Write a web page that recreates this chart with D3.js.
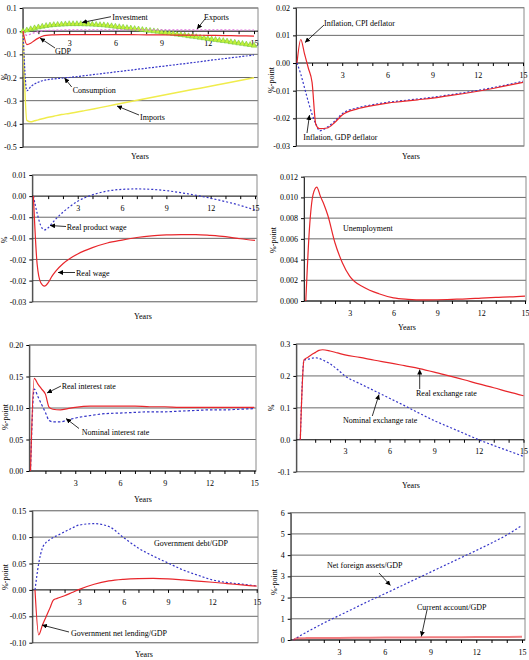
<!DOCTYPE html>
<html>
<head>
<meta charset="utf-8">
<script src="https://cdn.jsdelivr.net/npm/d3@7"></script>
<style>
  body { margin: 0; background: #fff; }
  text { font-family: "Liberation Serif", "Times New Roman", serif; }
</style>
</head>
<body>
<svg id="chart" width="529" height="660"></svg>
<script>
// years on the horizontal axis (quarterly at first, then yearly)
var T = [0, 0.25, 0.5, 0.75, 1, 1.25, 1.5, 2, 2.5, 3, 4, 5, 6, 7, 8, 9, 10, 11, 12, 13, 14, 15];
var xTickLabels = [3, 6, 9, 12, 15];

// panel 1: GDP and components
var gdp = [0, -0.058, -0.052, -0.04, -0.03, -0.022, -0.018, -0.016, -0.015, -0.015, -0.015, -0.015, -0.015, -0.015, -0.016, -0.016, -0.017, -0.017, -0.018, -0.019, -0.020, -0.021];
var exportsS = [0, -0.018, -0.012, -0.006, -0.002, 0.001, 0.003, 0.004, 0.005, 0.006, 0.006, 0.006, 0.006, 0.006, 0.006, 0.006, 0.006, 0.006, 0.006, 0.006, 0.005, 0.005];
var consumption = [0, -0.257, -0.24, -0.228, -0.22, -0.214, -0.21, -0.206, -0.203, -0.2, -0.192, -0.184, -0.176, -0.168, -0.16, -0.152, -0.144, -0.136, -0.127, -0.119, -0.111, -0.103];
var imports = [0, -0.385, -0.391, -0.387, -0.383, -0.378, -0.374, -0.367, -0.36, -0.355, -0.343, -0.33, -0.317, -0.304, -0.291, -0.278, -0.265, -0.252, -0.24, -0.227, -0.214, -0.201];
var tInv = d3.range(0, 15.001, 0.25);
var investment = [0, 0.004, 0.009, 0.013, 0.017, 0.020, 0.023, 0.025, 0.027, 0.028, 0.029, 0.030, 0.031, 0.031, 0.031, 0.031,
  0.030, 0.030, 0.029, 0.028, 0.027, 0.026, 0.024, 0.022, 0.020, 0.018, 0.016, 0.014, 0.012, 0.010, 0.008, 0.006,
  0.004, 0.002, 0.000, -0.002, -0.005, -0.007, -0.009, -0.011, -0.014, -0.016, -0.018, -0.021, -0.023, -0.025, -0.028, -0.030,
  -0.033, -0.035, -0.037, -0.040, -0.042, -0.044, -0.047, -0.049, -0.052, -0.054, -0.057, -0.059, -0.062];
var p1Ticks = [0.1, 0, -0.1, -0.2, -0.3, -0.4, -0.5];
var p1Labels = ["0.1", "0.0", "-0.1", "-0.2", "-0.3", "-0.4", "-0.5"];

// panel 2: inflation
var cpiInfl = [0, 0.0085, 0.0033, -0.0018, -0.007, -0.0222, -0.0237, -0.0235, -0.0215, -0.0188, -0.0166, -0.0154, -0.0145, -0.0139, -0.0133, -0.0127, -0.0119, -0.0111, -0.0102, -0.0092, -0.0081, -0.007];
var gdpInfl = [0, -0.004, -0.009, -0.014, -0.0185, -0.022, -0.0245, -0.0232, -0.021, -0.0183, -0.0162, -0.0151, -0.0142, -0.0136, -0.013, -0.0124, -0.0116, -0.0108, -0.0099, -0.0089, -0.0078, -0.0066];
var p2Ticks = [0.02, 0.01, 0, -0.01, -0.02, -0.03];
var p2Labels = ["0.02", "0.01", "0.00", "-0.01", "-0.02", "-0.03"];

// panel 3: wages
var realProductWage = [0, -0.004, -0.007, -0.008, -0.0075, -0.0065, -0.0055, -0.0038, -0.0024, -0.0012, 0.0003, 0.0012, 0.0016, 0.0017, 0.0016, 0.0013, 0.0008, 0.0002, -0.0005, -0.0013, -0.0022, -0.0033];
var realWage = [0, -0.016, -0.0205, -0.0213, -0.0205, -0.019, -0.0178, -0.016, -0.0147, -0.0137, -0.0122, -0.0111, -0.0104, -0.0098, -0.0094, -0.0092, -0.0091, -0.0091, -0.0093, -0.0096, -0.0101, -0.0105];
var p3Ticks = [0.005, 0, -0.005, -0.01, -0.015, -0.02, -0.025];
var p3Labels = ["0.01", "0.00", "-0.01", "-0.01", "-0.02", "-0.02", "-0.03"];

// panel 4: unemployment
var unemployment = [0, 0.007, 0.0103, 0.011, 0.0101, 0.0093, 0.0083, 0.0056, 0.0037, 0.0024, 0.0013, 0.0007, 0.0003, 0.00016, 0.0001, 0.00012, 0.00016, 0.0002, 0.00028, 0.00035, 0.0004, 0.00048];
var p4Ticks = [0.012, 0.01, 0.008, 0.006, 0.004, 0.002, 0];
var p4Labels = ["0.012", "0.010", "0.008", "0.006", "0.004", "0.002", "0.000"];

// panel 5: interest rates
var realRate = [0, 0.147, 0.138, 0.13, 0.122, 0.101, 0.098, 0.097, 0.099, 0.101, 0.103, 0.103, 0.103, 0.103, 0.102, 0.102, 0.101, 0.101, 0.101, 0.101, 0.101, 0.101];
var nominalRate = [0, 0.13, 0.118, 0.105, 0.093, 0.08, 0.078, 0.078, 0.081, 0.084, 0.088, 0.091, 0.092, 0.093, 0.094, 0.094, 0.095, 0.096, 0.097, 0.097, 0.098, 0.099];
var p5Ticks = [0.2, 0.15, 0.1, 0.05, 0];
var p5Labels = ["0.20", "0.15", "0.10", "0.05", "0.00"];

// panel 6: exchange rates
var realExch = [0, 0.25, 0.258, 0.266, 0.273, 0.28, 0.282, 0.278, 0.272, 0.266, 0.258, 0.249, 0.241, 0.232, 0.223, 0.212, 0.2, 0.188, 0.175, 0.163, 0.15, 0.138];
var nominalExch = [0, 0.25, 0.252, 0.255, 0.257, 0.255, 0.25, 0.238, 0.22, 0.2, 0.176, 0.153, 0.13, 0.107, 0.083, 0.06, 0.04, 0.02, 0.0, -0.018, -0.035, -0.052];
var p6Ticks = [0.3, 0.2, 0.1, 0, -0.1];
var p6Labels = ["0.3", "0.2", "0.1", "0.0", "-0.1"];

// panel 7: government
var govDebt = [0, 0.05, 0.079, 0.09, 0.095, 0.0997, 0.103, 0.11, 0.117, 0.123, 0.1255, 0.12, 0.099, 0.079, 0.064, 0.051, 0.038, 0.028, 0.019, 0.014, 0.011, 0.0076];
var govLending = [0, -0.085, -0.067, -0.051, -0.035, -0.019, -0.016, -0.011, -0.005, 0.001, 0.0107, 0.017, 0.02, 0.0215, 0.022, 0.021, 0.019, 0.0168, 0.0145, 0.012, 0.0095, 0.007];
var p7Ticks = [0.15, 0.1, 0.05, 0, -0.05, -0.1];
var p7Labels = ["0.15", "0.10", "0.05", "0.00", "-0.05", "-0.10"];

// panel 8: foreign position
var nfa = [0, 0.11, 0.22, 0.32, 0.42, 0.52, 0.61, 0.8, 0.98, 1.15, 1.5, 1.85, 2.18, 2.52, 2.86, 3.2, 3.54, 3.88, 4.22, 4.57, 4.95, 5.4];
var currentAccount = [0, 0.08, 0.085, 0.088, 0.09, 0.092, 0.094, 0.096, 0.098, 0.1, 0.104, 0.108, 0.112, 0.116, 0.12, 0.124, 0.128, 0.132, 0.136, 0.14, 0.145, 0.15];
var p8Ticks = [6, 5, 4, 3, 2, 1, 0];
var p8Labels = ["6", "5", "4", "3", "2", "1", "0"];

var RED = "#e8262b", BLUE = "#3535c8", YELLOW = "#f0ec4c", PINK = "#e070e0";

var svg = d3.select("#chart");
svg.append("defs").append("marker")
  .attr("id", "arrow").attr("viewBox", "0 -3 6 6")
  .attr("refX", 6).attr("refY", 0)
  .attr("markerWidth", 5).attr("markerHeight", 5)
  .attr("markerUnits", "userSpaceOnUse")
  .attr("orient", "auto")
  .append("path").attr("d", "M0,-3L6,0L0,3Z").attr("fill", "#000");

function zip(xs, ys) {
  return xs.map(function(t, i) { return { t: t, v: ys[i] }; });
}

function drawPanel(p) {
  var x = d3.scaleLinear().domain([0, 15]).range([p.x0, p.x15]);
  var y = d3.scaleLinear().domain([p.ticks[p.ticks.length - 1], p.ticks[0]]).range([p.bottom, p.top]);
  var g = svg.append("g");

  // gridlines
  g.selectAll("line.grid")
    .data(p.ticks.filter(function(d) { return d !== 0; }))
    .enter().append("line")
    .attr("class", "grid")
    .attr("x1", p.left).attr("x2", p.right)
    .attr("y1", function(d) { return y(d); })
    .attr("y2", function(d) { return y(d); })
    .attr("stroke", "#6a6a6a").attr("stroke-width", 1);

  g.append("rect")
    .attr("x", p.left).attr("y", p.top)
    .attr("width", p.right - p.left).attr("height", p.bottom - p.top)
    .attr("fill", "none").attr("stroke", "#8a8a8a");

  // y axis
  var ya = g.append("g")
    .attr("transform", "translate(" + p.left + ",0)")
    .call(d3.axisLeft(y).tickValues(p.ticks).tickSize(3).tickSizeOuter(0).tickPadding(3)
      .tickFormat(function(d, i) { return p.labels[i]; }));
  ya.select(".domain").attr("stroke", "#333");
  ya.selectAll("text").attr("font-size", 8).attr("font-family", "Liberation Serif");

  // x axis at zero
  var y0 = y(0);
  g.append("line")
    .attr("x1", p.left).attr("x2", p.right)
    .attr("y1", y0).attr("y2", y0)
    .attr("stroke", "#000");
  var xa = g.append("g")
    .attr("transform", "translate(0," + y0 + ")")
    .call(d3.axisBottom(x).tickValues(d3.range(1, 16)).tickSize(3).tickSizeOuter(0).tickPadding(6)
      .tickFormat(function(d) { return xTickLabels.indexOf(d) >= 0 ? d : ""; }));
  xa.select(".domain").remove();
  xa.selectAll("text").attr("font-size", 8).attr("font-family", "Liberation Serif");

  // series
  p.series.forEach(function(s) {
    var line = d3.line()
      .x(function(d) { return x(d.t); })
      .y(function(d) { return y(d.v); })
      .curve(d3.curveMonotoneX);
    var data = zip(s.t || T, s.values);
    g.append("path")
      .datum(data)
      .attr("d", line)
      .attr("fill", "none")
      .attr("stroke", s.color)
      .attr("stroke-width", s.width || 1.2)
      .attr("stroke-dasharray", s.dash || null)
      .attr("stroke-opacity", s.opacity || 1);
    if (s.markers) {
      g.selectAll("path.mk")
        .data(data).enter().append("path")
        .attr("transform", function(d) { return "translate(" + x(d.t) + "," + y(d.v) + ")"; })
        .attr("d", d3.symbol().type(d3.symbolTriangle).size(14))
        .attr("fill", s.markers).attr("stroke", s.color).attr("stroke-width", 0.5);
    }
  });

  // annotations
  p.notes.forEach(function(n) {
    if (n.arrow) {
      g.append("line")
        .attr("x1", n.arrow[0]).attr("y1", n.arrow[1])
        .attr("x2", n.arrow[2]).attr("y2", n.arrow[3])
        .attr("stroke", "#000").attr("stroke-width", 0.8)
        .attr("marker-end", "url(#arrow)");
    }
    g.append("text")
      .attr("x", n.x).attr("y", n.y).attr("dy", "0.35em")
      .attr("font-size", 8).text(n.text);
  });

  if (p.xTitle) {
    g.append("text")
      .attr("x", p.xTitle[0]).attr("y", p.xTitle[1]).attr("dy", "0.35em")
      .attr("text-anchor", "middle").attr("font-size", 8).text("Years");
  }
  if (p.yTitle) {
    g.append("text")
      .attr("transform", "translate(" + p.yTitle[1] + "," + p.yTitle[2] + ") rotate(-90)")
      .attr("dy", "0.35em").attr("text-anchor", "middle").attr("font-size", 8)
      .text(p.yTitle[0]);
  }
}

var panels = [
  { left: 22.7, right: 258, top: 8, bottom: 147, x0: 23, x15: 254,
    ticks: p1Ticks, labels: p1Labels, xTitle: [140, 156], yTitle: ["%", 4, 77],
    series: [
      { values: imports, color: YELLOW, width: 1.5 },
      { values: consumption, color: BLUE, dash: "2,1.5" },
      { t: tInv, values: investment, color: "#66c033", markers: "#c4f03c", width: 1 },
      { values: exportsS, color: PINK, dash: "2,2" },
      { values: gdp, color: RED }
    ],
    notes: [
      { text: "Investment", x: 112.3, y: 16.7, arrow: [111, 16.7, 82, 22.5] },
      { text: "Exports", x: 204, y: 16.7, arrow: [205, 19, 197, 29] },
      { text: "GDP", x: 55, y: 50.7, arrow: [55, 48, 40, 38] },
      { text: "Consumption", x: 72.7, y: 90, arrow: [71.7, 87, 64.5, 78] },
      { text: "Imports", x: 140, y: 116.7, arrow: [139, 115, 117, 106] }
    ] },
  { left: 296, right: 524, top: 7.7, bottom: 146, x0: 297, x15: 523,
    ticks: p2Ticks, labels: p2Labels, xTitle: [411, 156], yTitle: ["%-point", 271, 80],
    series: [
      { values: gdpInfl, color: BLUE, dash: "2,2" },
      { values: cpiInfl, color: RED }
    ],
    notes: [
      { text: "Inflation, CPI deflator", x: 324, y: 22.7, arrow: [324, 25, 305, 42.5] },
      { text: "Inflation, GDP deflator", x: 303.3, y: 137.3, arrow: [307, 133, 309.5, 115] }
    ] },
  { left: 32.3, right: 257, top: 175, bottom: 301.7, x0: 33.4, x15: 255,
    ticks: p3Ticks, labels: p3Labels, xTitle: [143, 316], yTitle: ["%", 4, 240],
    series: [
      { values: realProductWage, color: BLUE, dash: "2,2" },
      { values: realWage, color: RED }
    ],
    notes: [
      { text: "Real product wage", x: 66.7, y: 226.7, arrow: [66, 226.5, 50, 225.5] },
      { text: "Real wage", x: 76, y: 273.3, arrow: [75, 272.5, 58, 272.5] }
    ] },
  { left: 304, right: 526, top: 176.7, bottom: 301, x0: 305.8, x15: 525,
    ticks: p4Ticks, labels: p4Labels, xTitle: [407, 327], yTitle: ["%-point", 273, 240],
    series: [
      { values: unemployment, color: RED }
    ],
    notes: [
      { text: "Unemployment", x: 343, y: 228 }
    ] },
  { left: 29.3, right: 256, top: 345, bottom: 471, x0: 30.5, x15: 254.3,
    ticks: p5Ticks, labels: p5Labels, xTitle: [143, 499], yTitle: ["%-point", 5, 417],
    series: [
      { values: nominalRate, color: BLUE, dash: "2.5,2" },
      { values: realRate, color: RED }
    ],
    notes: [
      { text: "Real interest rate", x: 61.7, y: 385.7, arrow: [61, 386, 47, 393] },
      { text: "Nominal interest rate", x: 81.7, y: 431.7, arrow: [79, 428.5, 66, 418.5] }
    ] },
  { left: 296.3, right: 524, top: 344, bottom: 471.7, x0: 300.3, x15: 523.5,
    ticks: p6Ticks, labels: p6Labels, xTitle: [411, 485], yTitle: ["%", 271, 408],
    series: [
      { values: nominalExch, color: BLUE, dash: "2,2" },
      { values: realExch, color: RED }
    ],
    notes: [
      { text: "Real exchange rate", x: 416, y: 393.3, arrow: [419.7, 389, 419.7, 369.5] },
      { text: "Nominal exchange rate", x: 343, y: 420, arrow: [372.3, 416, 379, 394.5] }
    ] },
  { left: 32.3, right: 258, top: 510.7, bottom: 642.7, x0: 35, x15: 256.7,
    ticks: p7Ticks, labels: p7Labels, xTitle: [144, 654.5], yTitle: ["%-point", 5, 577],
    series: [
      { values: govDebt, color: BLUE, dash: "2,2" },
      { values: govLending, color: RED }
    ],
    notes: [
      { text: "Government debt/GDP", x: 154, y: 542.7 },
      { text: "Government net lending/GDP", x: 71, y: 633.3, arrow: [69, 632, 42, 625] }
    ] },
  { left: 290.7, right: 525, top: 512.7, bottom: 640, x0: 293.3, x15: 522,
    ticks: p8Ticks, labels: p8Labels, xTitle: null, yTitle: ["%-point", 274, 582],
    series: [
      { values: nfa, color: BLUE, dash: "2,2" },
      { values: currentAccount, color: RED, width: 2, opacity: 0.6 }
    ],
    notes: [
      { text: "Net foreign assets/GDP", x: 327, y: 565, arrow: [379, 573, 390.5, 585.5] },
      { text: "Current account/GDP", x: 417, y: 606.7, arrow: [427, 610, 421.3, 636.5] }
    ] }
];

panels.forEach(drawPanel);
</script>
</body>
</html>
